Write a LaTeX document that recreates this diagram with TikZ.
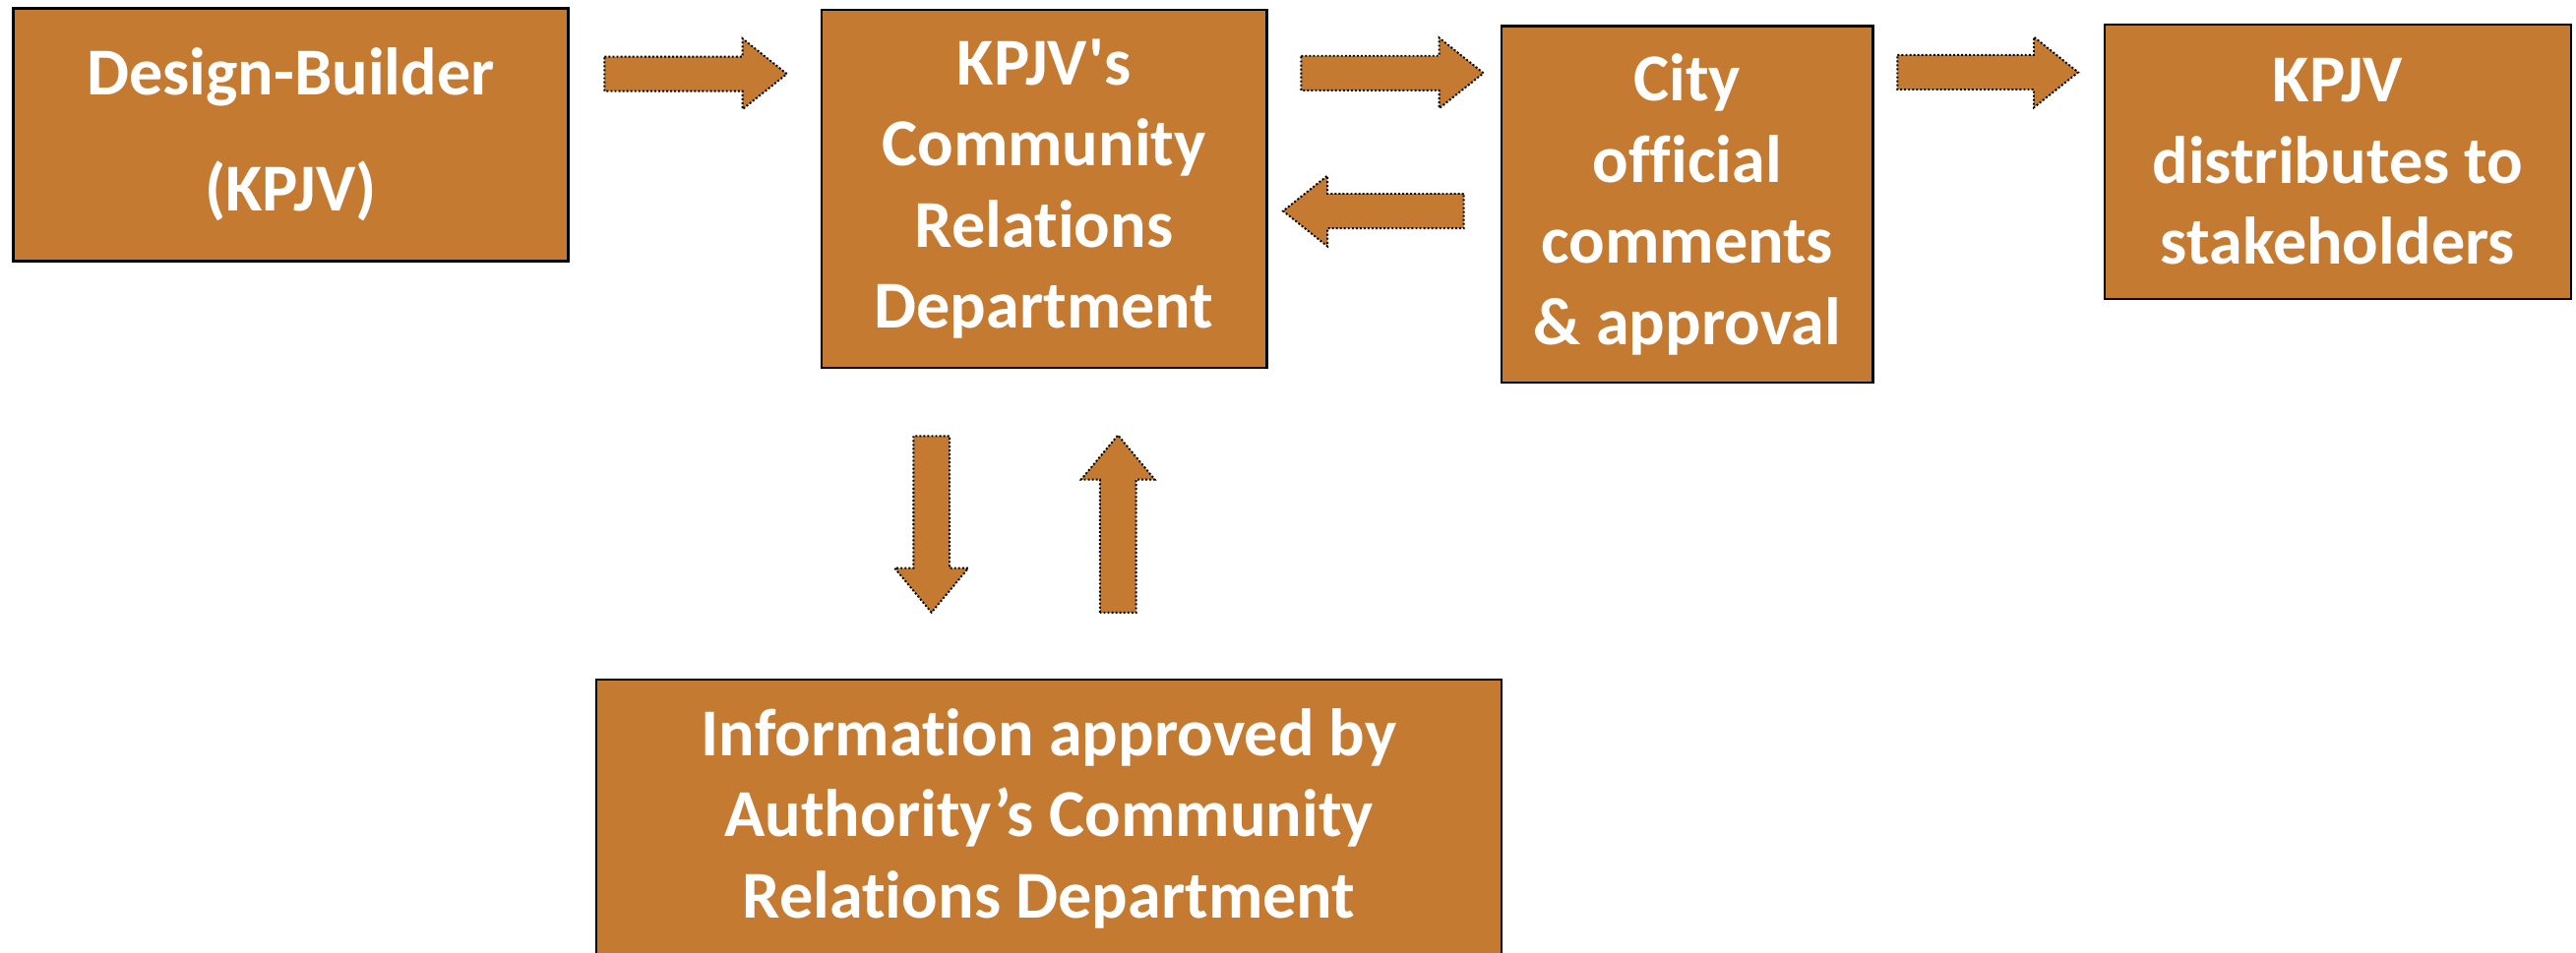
\documentclass[tikz,border=0pt]{standalone}
\usepackage{fontspec}
\setmainfont{Carlito}[Ligatures={TeXOff,NoCommon}]
\definecolor{boxorange}{RGB}{197,122,50}
\def\PX{0.016696cm}
\tikzset{
  box/.style={draw=black, line width=0.7pt, fill=boxorange, text=white,
    font=\bfseries\fontsize{19.4}{23.5}\selectfont, align=center, inner sep=0pt},
  barrow/.style={fill=boxorange, draw=black, line width=0.55pt,
    dash pattern=on 0.55pt off 0.6pt, line join=miter}
}
\newcommand\harrow[3]{% tail x, tip x, y
  \pgfmathsetmacro\hb{#2-sign(#2-#1)*27}
  \draw[barrow] (#1,#3-10.5) -- (\hb,#3-10.5) -- (\hb,#3-21.5) -- (#2,#3)
     -- (\hb,#3+21.5) -- (\hb,#3+10.5) -- (#1,#3+10.5) -- cycle;}
\newcommand\varrow[3]{% x, tail y, tip y
  \pgfmathsetmacro\hb{#3-sign(#3-#2)*27}
  \draw[barrow] (#1-11,#2) -- (#1-11,\hb) -- (#1-22.4,\hb) -- (#1,#3)
     -- (#1+22.4,\hb) -- (#1+11,\hb) -- (#1+11,#2) -- cycle;}
\begin{document}
\begin{tikzpicture}[x=\PX, y=-\PX]
\useasboundingbox[fill=white] (0,0) rectangle (1568,580);
\node[box, minimum width=338*\PX, minimum height=154*\PX] (db) at (177,82)
  {Design-Builder\\[10.2pt](KPJV)};
\node[box, minimum width=271*\PX, minimum height=218*\PX] (crd) at (635.5,115)
  {KPJV's\\Community\\Relations\\Department};
\node[box, minimum width=226*\PX, minimum height=217*\PX] (city) at (1027,124.5)
  {City\\official\\comments\\\& approval};
\node[box, minimum width=284*\PX, minimum height=167*\PX] (dist) at (1423,98.5)
  {KPJV\\distributes to\\stakeholders};
\node[box, minimum width=551*\PX, minimum height=169*\PX] (auth) at (638.5,498.5)
  {Information approved by\\Authority’s Community\\Relations Department};
\harrow{368}{479}{45}
\harrow{792}{903}{44.5}
\harrow{891}{781}{128.5}
\harrow{1155}{1265}{44}
\varrow{567}{265.5}{373}
\varrow{680.5}{373}{265}
\end{tikzpicture}
\end{document}
